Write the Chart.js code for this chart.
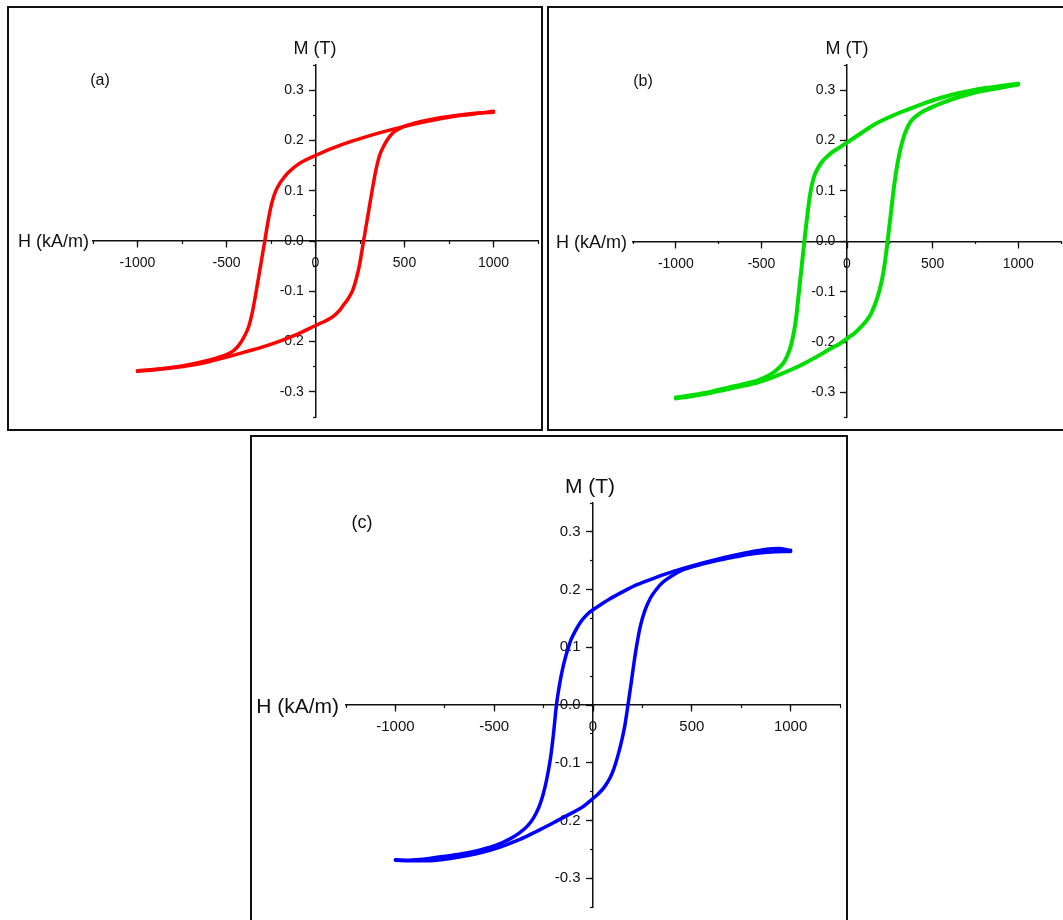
<!DOCTYPE html>
<html>
<head>
<meta charset="utf-8">
<script src="https://cdn.jsdelivr.net/npm/chart.js@4.4.1/dist/chart.umd.min.js"></script>
<style>
  body { margin: 0; background: #fff; width: 1063px; height: 920px; overflow: hidden; position: relative;
         font-family: "Liberation Sans", Arial, sans-serif; color: #111; }
  .panel { position: absolute; border: 2px solid #111; box-sizing: border-box; }
  canvas { position: absolute; }
  .lbl { position: absolute; white-space: nowrap; line-height: 1; }
  .c { transform: translate(-50%, -50%); }
  .r { transform: translate(-100%, -50%); }
</style>
</head>
<body>
<div class="panel" style="left:7px;top:6px;width:536px;height:425px"></div>
<div class="panel" style="left:547px;top:6px;width:530px;height:425px"></div>
<div class="panel" style="left:250px;top:435px;width:598px;height:500px"></div>

<canvas id="chart-a" style="left:9px;top:8px"></canvas>
<canvas id="chart-b" style="left:549px;top:8px"></canvas>
<canvas id="chart-c" style="left:252px;top:437px"></canvas>

<div class="lbl c" style="left:315px;top:48px;font-size:18px">M (T)</div>
<div class="lbl c" style="left:100px;top:80px;font-size:16px">(a)</div>
<div class="lbl r" style="left:89px;top:241px;font-size:18px">H (kA/m)</div>

<div class="lbl c" style="left:847px;top:48px;font-size:18px">M (T)</div>
<div class="lbl c" style="left:643px;top:81px;font-size:16px">(b)</div>
<div class="lbl r" style="left:627px;top:242px;font-size:18px">H (kA/m)</div>

<div class="lbl c" style="left:590px;top:485px;font-size:21px">M (T)</div>
<div class="lbl c" style="left:362px;top:522px;font-size:18px">(c)</div>
<div class="lbl r" style="left:339px;top:705px;font-size:21px">H (kA/m)</div>

<script>
// axis ticks
const xMajorTicks = [-1000, -500, 0, 500, 1000];
const xMinorTicks = [-1250, -1000, -750, -500, -250, 0, 250, 500, 750, 1000, 1250];
const yMajorTicks = [-0.3, -0.2, -0.1, 0, 0.1, 0.2, 0.3];
const yMinorTicks = [-0.35, -0.3, -0.25, -0.2, -0.15, -0.1, -0.05, 0, 0.05, 0.1, 0.15, 0.2, 0.25, 0.3, 0.35];

// (a) red loop: branch coming down from +H, branch going up from -H
const aDownH = [-1000, -900, -800, -700, -600, -540, -500, -460, -430, -400, -375, -355, -335, -310, -285, -262, -245, -225, -200, -175, -150, -100, -50, 0, 100, 200, 300, 400, 500, 600, 700, 800, 900, 1000];
const aDownM = [-0.258, -0.255, -0.251, -0.245, -0.237, -0.231, -0.226, -0.218, -0.207, -0.190, -0.170, -0.142, -0.104, -0.052, 0.0, 0.048, 0.076, 0.098, 0.115, 0.127, 0.137, 0.152, 0.162, 0.170, 0.185, 0.198, 0.209, 0.219, 0.228, 0.236, 0.243, 0.249, 0.253, 0.258];
const aUpH = [-1000, -900, -800, -700, -600, -500, -400, -300, -200, -100, 0, 50, 100, 135, 160, 185, 210, 230, 247, 270, 295, 320, 340, 360, 385, 415, 445, 485, 525, 600, 700, 800, 900, 1000];
const aUpM = [-0.259, -0.256, -0.252, -0.247, -0.240, -0.231, -0.221, -0.211, -0.199, -0.185, -0.168, -0.160, -0.150, -0.138, -0.126, -0.114, -0.097, -0.074, -0.048, 0.0, 0.052, 0.104, 0.142, 0.170, 0.190, 0.207, 0.218, 0.226, 0.231, 0.238, 0.245, 0.250, 0.254, 0.256];

// (b) green loop
const bDownH = [-1000, -900, -800, -700, -600, -520, -460, -420, -390, -365, -345, -325, -300, -280, -265, -249, -232, -215, -203, -190, -170, -150, -120, -90, -45, 0, 80, 160, 250, 350, 450, 550, 650, 750, 850, 1000];
const bDownM = [-0.310, -0.305, -0.299, -0.291, -0.283, -0.276, -0.267, -0.258, -0.249, -0.238, -0.224, -0.204, -0.160, -0.098, -0.051, 0.0, 0.051, 0.094, 0.115, 0.131, 0.145, 0.156, 0.167, 0.176, 0.186, 0.196, 0.214, 0.232, 0.247, 0.261, 0.274, 0.285, 0.294, 0.301, 0.306, 0.313];
const bUpH = [-1000, -900, -800, -700, -620, -520, -420, -320, -230, -150, -90, -40, 0, 45, 82, 115, 140, 165, 189, 205, 220, 237, 255, 270, 286, 305, 325, 350, 375, 410, 451, 500, 549, 650, 743, 850, 1000];
const bUpM = [-0.312, -0.307, -0.301, -0.294, -0.288, -0.280, -0.268, -0.254, -0.239, -0.224, -0.212, -0.203, -0.193, -0.182, -0.170, -0.157, -0.144, -0.124, -0.098, -0.075, -0.045, 0.0, 0.052, 0.096, 0.136, 0.172, 0.200, 0.224, 0.239, 0.250, 0.259, 0.267, 0.274, 0.286, 0.295, 0.302, 0.311];

// (c) blue loop
const cDownH = [-1000, -930, -850, -770, -670, -570, -490, -420, -370, -330, -300, -275, -255, -235, -215, -200, -185, -170, -155, -140, -125, -110, -90, -60, -30, 0, 40, 80, 150, 220, 310, 410, 510, 610, 710, 810, 880, 940, 1000];
const cDownM = [-0.268, -0.269, -0.267, -0.263, -0.258, -0.251, -0.243, -0.232, -0.221, -0.209, -0.195, -0.178, -0.158, -0.130, -0.092, -0.050, 0.0, 0.034, 0.061, 0.082, 0.099, 0.114, 0.128, 0.145, 0.157, 0.165, 0.174, 0.183, 0.196, 0.208, 0.220, 0.232, 0.242, 0.251, 0.259, 0.266, 0.270, 0.271, 0.268];
const cUpH = [-1000, -930, -850, -770, -670, -570, -470, -370, -280, -200, -140, -90, -50, 0, 30, 60, 85, 105, 125, 145, 160, 177, 192, 207, 222, 240, 262, 290, 320, 355, 400, 454, 530, 611, 710, 809, 900, 1000];
const cUpM = [-0.269, -0.270, -0.270, -0.268, -0.263, -0.256, -0.246, -0.233, -0.218, -0.204, -0.193, -0.184, -0.176, -0.162, -0.153, -0.141, -0.127, -0.111, -0.089, -0.062, -0.038, 0.0, 0.035, 0.072, 0.105, 0.137, 0.163, 0.185, 0.200, 0.213, 0.224, 0.234, 0.242, 0.249, 0.256, 0.262, 0.265, 0.266];

const ink = "#111";
const family = "'Liberation Sans', Arial, sans-serif";

function toPoints(h, m) {
    return h.map((v, i) => ({ x: v, y: m[i] }));
}

function setTicks(list) {
    return (scale) => { scale.ticks = list.map(v => ({ value: v })); };
}

function makeChart(id, w, h, pad, fontSize, xPad, color, lineWidth, down, up) {
    const canvas = document.getElementById(id);
    canvas.width = w;
    canvas.height = h;
    const font = { family: family, size: fontSize };
    const line = {
        borderColor: color,
        borderWidth: lineWidth,
        showLine: true,
        pointRadius: 0,
        cubicInterpolationMode: "monotone",
        borderCapStyle: "round",
        borderJoinStyle: "round",
        xAxisID: "x",
        yAxisID: "y"
    };

    return new Chart(canvas.getContext("2d"), {
        type: "scatter",
        data: {
            datasets: [
                Object.assign({ data: toPoints(down[0], down[1]) }, line),
                Object.assign({ data: toPoints(up[0], up[1]) }, line)
            ]
        },
        options: {
            responsive: false,
            animation: false,
            layout: { padding: pad },
            plugins: { legend: { display: false }, tooltip: { enabled: false } },
            scales: {
                x: {
                    type: "linear", min: -1250, max: 1250,
                    position: { y: 0 },
                    afterBuildTicks: setTicks(xMajorTicks),
                    border: { display: true, color: ink, width: 1.5 },
                    grid: { drawOnChartArea: false, tickLength: 6, tickColor: ink, tickWidth: 1.3 },
                    ticks: { autoSkip: false, maxRotation: 0, color: ink, font: font, padding: xPad,
                             callback: v => String(v) }
                },
                xMinor: {
                    axis: "x", type: "linear", min: -1250, max: 1250,
                    position: { y: 0 },
                    afterBuildTicks: setTicks(xMinorTicks),
                    border: { display: false },
                    grid: { drawOnChartArea: false, tickLength: 3, tickColor: ink, tickWidth: 1.2 },
                    ticks: { display: false, autoSkip: false }
                },
                y: {
                    type: "linear", min: -0.35, max: 0.35,
                    position: { x: 0 },
                    afterBuildTicks: setTicks(yMajorTicks),
                    border: { display: true, color: ink, width: 1.5 },
                    grid: { drawOnChartArea: false, tickLength: 6, tickColor: ink, tickWidth: 1.3 },
                    // labels sit on the axis line itself when it is placed at x = 0,
                    // so trailing spaces push them clear of the ticks
                    ticks: { autoSkip: false, color: ink, font: font,
                             callback: v => (Math.round(v * 10) / 10).toFixed(1) + "   " }
                },
                yMinor: {
                    axis: "y", type: "linear", min: -0.35, max: 0.35,
                    position: { x: 0 },
                    afterBuildTicks: setTicks(yMinorTicks),
                    border: { display: false },
                    grid: { drawOnChartArea: false, tickLength: 3, tickColor: ink, tickWidth: 1.2 },
                    ticks: { display: false, autoSkip: false }
                }
            }
        }
    });
}

makeChart("chart-a", 532, 421, { left: 84, right: 3, top: 57, bottom: 12 }, 14, 8, "#ff0000", 3.5,
    [aDownH, aDownM], [aUpH, aUpM]);
makeChart("chart-b", 514, 421, { left: 84, right: 2, top: 57, bottom: 11 }, 14, 8, "#00dd00", 4,
    [bDownH, bDownM], [bUpH, bUpM]);
makeChart("chart-c", 594, 483, { left: 94, right: 6, top: 66, bottom: 13 }, 15, 7, "#0000ff", 3.5,
    [cDownH, cDownM], [cUpH, cUpM]);
</script>
</body>
</html>
